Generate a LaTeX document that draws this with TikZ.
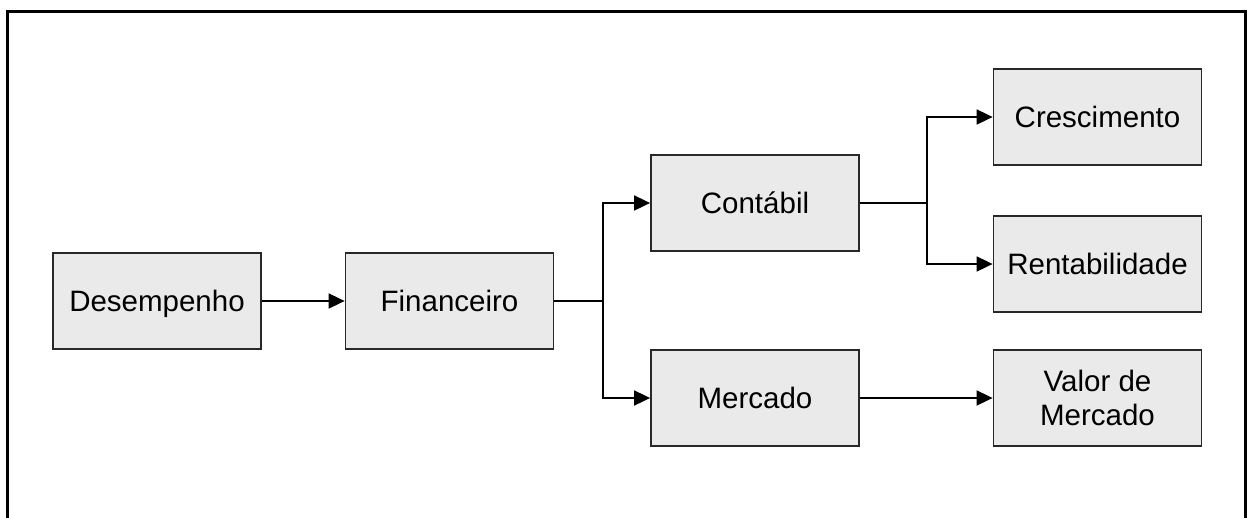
\documentclass[tikz,border=0pt]{standalone}
\usepackage{fontspec}
\setmainfont{Liberation Sans}
\usetikzlibrary{arrows.meta}
\definecolor{boxfill}{RGB}{234,234,234}
\definecolor{boxline}{RGB}{40,40,40}
\begin{document}
\begin{tikzpicture}[x=1pt,y=-1pt,
  box/.style={draw=boxline,fill=boxfill,line width=1.8pt,minimum width=208pt,minimum height=96pt,inner sep=0pt,align=center,font=\fontsize{29.5}{34}\selectfont},
  oneline/.style={box,text height=21.1pt,text depth=0pt},
  conn/.style={line width=1.8pt},
  arr/.style={conn,-{Triangle[length=16pt,width=15pt]}}]
\useasboundingbox (0,0) rectangle (1247,517);
\draw[line width=3pt] (7,520) -- (7,11) -- (1245,11) -- (1245,520);
\node[oneline] (des) at (157,301) {Desempenho};
\node[oneline] (fin) at (449.5,301) {Financeiro};
\node[oneline] (con) at (755,203) {Contábil};
\node[oneline] (mer) at (755,398) {Mercado};
\node[oneline] (cre) at (1097.5,117) {Crescimento};
\node[oneline] (ren) at (1097.5,264) {Rentabilidade};
\node[box] (val) at (1097.5,398) {Valor de\\Mercado};
\coordinate (b1) at (603,301);
\coordinate (b2) at (927,203);
\draw[arr] (des) -- (fin);
\draw[conn] (fin.east) -- (b1);
\draw[arr] (b1) |- (con.west);
\draw[arr] (b1) |- (mer.west);
\draw[conn] (con.east) -- (b2);
\draw[arr] (b2) |- (cre.west);
\draw[arr] (b2) |- (ren.west);
\draw[arr] (mer) -- (val);
\end{tikzpicture}
\end{document}
